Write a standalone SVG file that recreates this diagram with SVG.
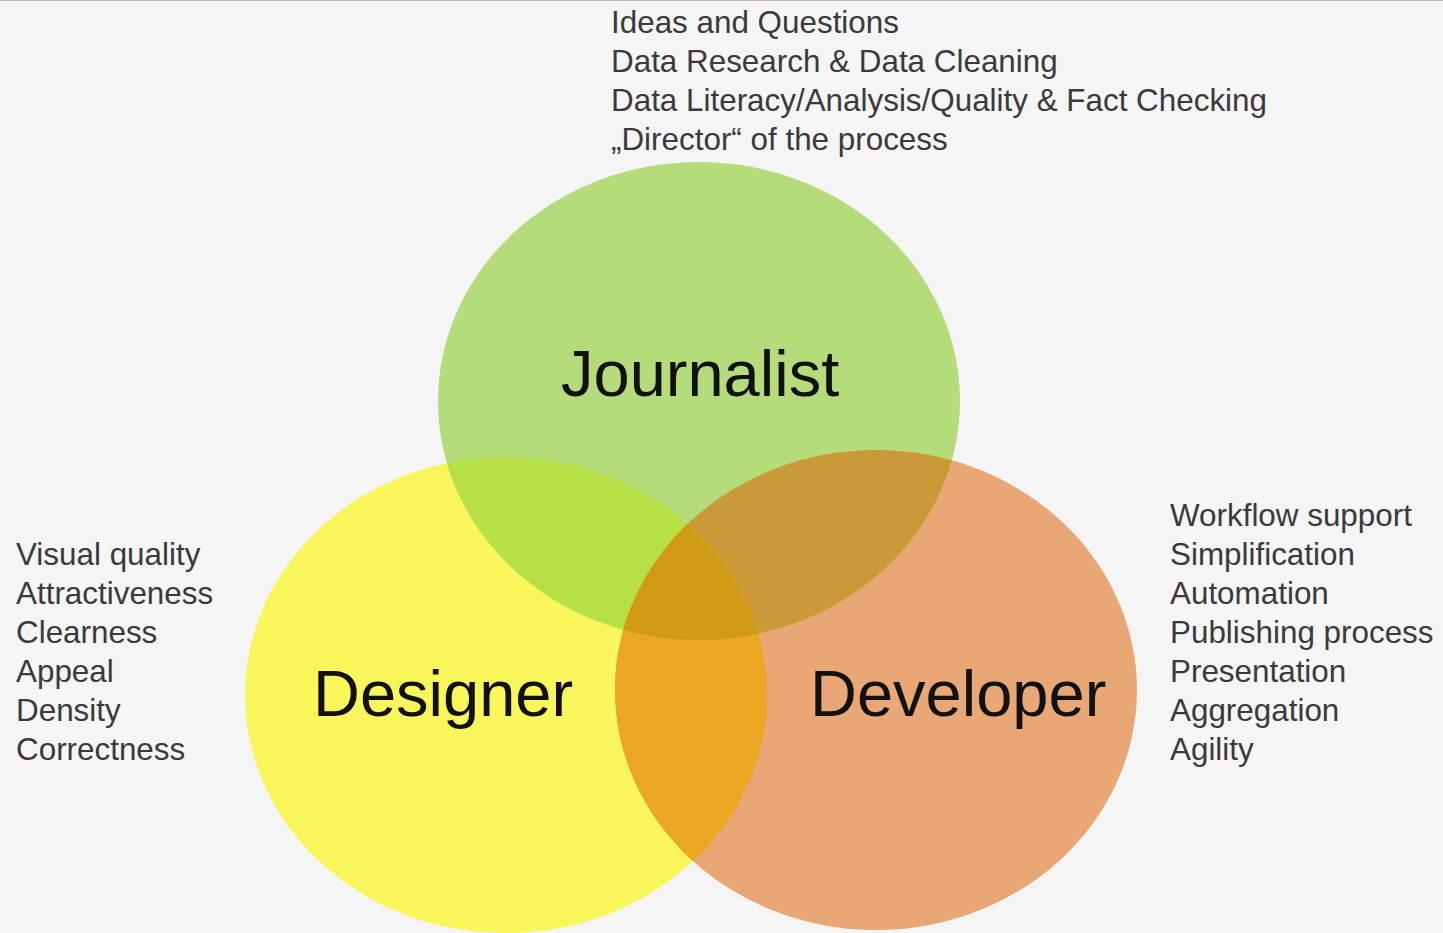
<svg xmlns="http://www.w3.org/2000/svg" width="1443" height="933" viewBox="0 0 1443 933">
<style>
.list{font-family:"Liberation Sans",Arial,sans-serif;font-size:31.4px;fill:#3a3a3a}
.big{font-family:"Liberation Sans",Arial,sans-serif;font-size:65px;fill:#111}
</style>
<defs>
<ellipse id="eJ" cx="699" cy="401" rx="261" ry="239"/>
<ellipse id="eD" cx="506" cy="695" rx="261" ry="238"/>
<ellipse id="eV" cx="876" cy="690" rx="261" ry="240"/>
<clipPath id="cJ"><use href="#eJ"/></clipPath>
<clipPath id="cD"><use href="#eD"/></clipPath>
<clipPath id="cV"><use href="#eV"/></clipPath>
</defs>
<rect width="1443" height="933" fill="#f5f5f5"/>
<line x1="0" y1="0.5" x2="1443" y2="0.5" stroke="#bbb" stroke-width="1"/>
<g id="designer">
<use href="#eD" fill="#f8f65a"/>
</g>
<g id="developer">
<use href="#eV" fill="#e8a774"/>
</g>
<g id="journalist">
<use href="#eJ" fill="#b5dc7a"/>
</g>
<g id="overlaps">
<g clip-path="url(#cJ)"><use href="#eD" fill="#b7e046"/></g>
<g clip-path="url(#cJ)"><use href="#eV" fill="#cb9a38"/></g>
<g clip-path="url(#cD)"><use href="#eV" fill="#eba622"/></g>
<g clip-path="url(#cJ)"><g clip-path="url(#cD)"><use href="#eV" fill="#cf9a14"/></g></g>
</g>
<g id="labels">
<text class="big" x="561" y="396">Journalist</text>
<text class="big" x="313" y="716">Designer</text>
<text class="big" x="810" y="716">Developer</text>
</g>
<g id="journalist-list" class="list">
<text x="611" y="33">Ideas and Questions</text>
<text x="611" y="72">Data Research &amp; Data Cleaning</text>
<text x="611" y="111">Data Literacy/Analysis/Quality &amp; Fact Checking</text>
<text x="611" y="150">„Director“ of the process</text>
</g>
<g id="designer-list" class="list">
<text x="16" y="565">Visual quality</text>
<text x="16" y="604">Attractiveness</text>
<text x="16" y="643">Clearness</text>
<text x="16" y="682">Appeal</text>
<text x="16" y="721">Density</text>
<text x="16" y="760">Correctness</text>
</g>
<g id="developer-list" class="list">
<text x="1170" y="526">Workflow support</text>
<text x="1170" y="565">Simplification</text>
<text x="1170" y="604">Automation</text>
<text x="1170" y="643">Publishing process</text>
<text x="1170" y="682">Presentation</text>
<text x="1170" y="721">Aggregation</text>
<text x="1170" y="760">Agility</text>
</g>
</svg>
